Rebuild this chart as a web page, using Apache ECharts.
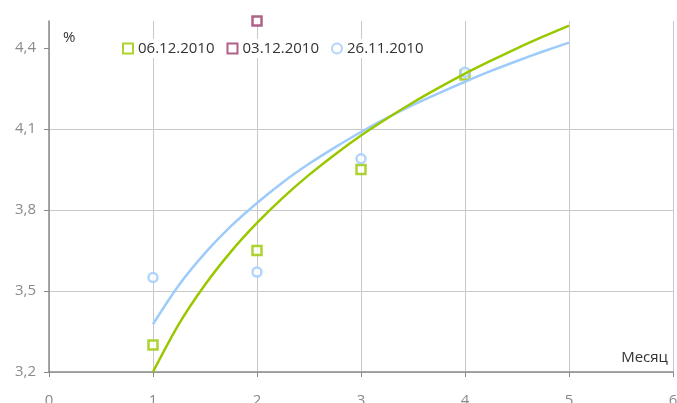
<!DOCTYPE html>
<html>
<head>
<meta charset="utf-8">
<script src="https://cdn.jsdelivr.net/npm/echarts@6/dist/echarts.min.js"></script>
<style>
html,body{margin:0;padding:0;background:#fff;}
#c{width:677px;height:403px;}
</style>
</head>
<body>
<div id="c"></div>
<script>
// Data
var months = [1, 2, 3, 4];
var s0612 = [3.30, 3.65, 3.95, 4.30];
var months0312 = [2];
var s0312 = [4.50];
var s2611 = [3.55, 3.57, 3.99, 4.31];
var trendX = [1, 1.25, 1.5, 1.75, 2, 2.25, 2.5, 2.75, 3, 3.25, 3.5, 3.75, 4, 4.25, 4.5, 4.75, 5];
var trend0612 = [3.200, 3.378, 3.523, 3.646, 3.752, 3.846, 3.930, 4.006, 4.076, 4.139, 4.198, 4.253, 4.305, 4.353, 4.399, 4.442, 4.483];
var trend2611 = [3.377, 3.522, 3.640, 3.740, 3.826, 3.903, 3.971, 4.032, 4.089, 4.141, 4.189, 4.233, 4.275, 4.315, 4.352, 4.387, 4.420];
var seriesNames = ['06.12.2010', '03.12.2010', '26.11.2010'];
var yTicks = [3.2, 3.5, 3.8, 4.1, 4.4];

var GREEN = '#99c800', PURPLE = '#9b3a6c', BLUE = '#9dcbfb';
function pairs(xs, ys) { return xs.map(function (x, i) { return [x, ys[i]]; }); }

var chart = echarts.init(document.getElementById('c'));
var FONT = 'Open Sans';
chart.setOption({
  animation: false,
  textStyle: { fontFamily: FONT },
  grid: { left: 49, right: 4, top: 21, bottom: 31, containLabel: false, outerBoundsMode: 'none' },
  legend: {
    data: seriesNames,
    left: 117, top: 39,
    backgroundColor: '#fff',
    padding: [2, 5, 2, 5],
    itemGap: 12,
    itemWidth: 10, itemHeight: 10,
    textStyle: { fontFamily: FONT, fontSize: 15, color: '#333' }
  },
  xAxis: {
    type: 'value', min: 0, max: 6, interval: 1,
    name: 'Месяц', nameLocation: 'end', nameGap: 0,
    nameTextStyle: { fontFamily: FONT, fontSize: 15, color: '#333', align: 'right', verticalAlign: 'bottom', padding: [0, 5, 7, 0] },
    axisLine: { lineStyle: { color: '#8a8a8a', width: 1.5 } },
    axisTick: { show: true, length: 5, lineStyle: { color: '#8a8a8a' } },
    axisLabel: { fontSize: 15, color: '#8a8a8a', margin: 21, fontFamily: FONT },
    splitLine: { show: true, lineStyle: { color: '#c8c8c8', width: 1 } }
  },
  yAxis: {
    type: 'value', min: 3.2, max: 4.5, interval: 0.3,
    name: '%', nameLocation: 'end', nameGap: -17,
    nameTextStyle: { fontFamily: FONT, fontSize: 15, color: '#333', align: 'left', verticalAlign: 'middle', padding: [0, 0, 0, 14] },
    axisLine: { show: true, lineStyle: { color: '#8a8a8a', width: 1.5 } },
    axisTick: { show: true, length: 5, lineStyle: { color: '#8a8a8a' }, customValues: yTicks },
    axisLabel: {
      fontSize: 15, color: '#8a8a8a', margin: 13, fontFamily: FONT, customValues: yTicks,
      formatter: function (v) { return v.toFixed(1).replace('.', ','); }
    },
    splitLine: { show: true, showMaxLine: false, lineStyle: { color: '#c8c8c8', width: 1 } }
  },
  series: [
    {
      name: seriesNames[0], type: 'scatter', symbol: 'rect', symbolSize: 9,
      itemStyle: { color: '#fff', borderColor: GREEN, borderWidth: 2.5 },
      data: pairs(months, s0612)
    },
    {
      name: seriesNames[1], type: 'scatter', symbol: 'rect', symbolSize: 9, clip: false,
      itemStyle: { color: '#fff', borderColor: PURPLE, borderWidth: 2.5 },
      data: pairs(months0312, s0312)
    },
    {
      name: seriesNames[2], type: 'scatter', symbol: 'circle', symbolSize: 9,
      itemStyle: { color: '#fff', borderColor: BLUE, borderWidth: 2.5 },
      data: pairs(months, s2611)
    },
    {
      name: 'trend ' + seriesNames[2], type: 'line', smooth: 0.3, showSymbol: false,
      lineStyle: { color: BLUE, width: 2.5 }, data: pairs(trendX, trend2611)
    },
    {
      name: 'trend ' + seriesNames[0], type: 'line', smooth: 0.3, showSymbol: false,
      lineStyle: { color: GREEN, width: 2.5 }, data: pairs(trendX, trend0612)
    }
  ]
});
</script>
</body>
</html>
